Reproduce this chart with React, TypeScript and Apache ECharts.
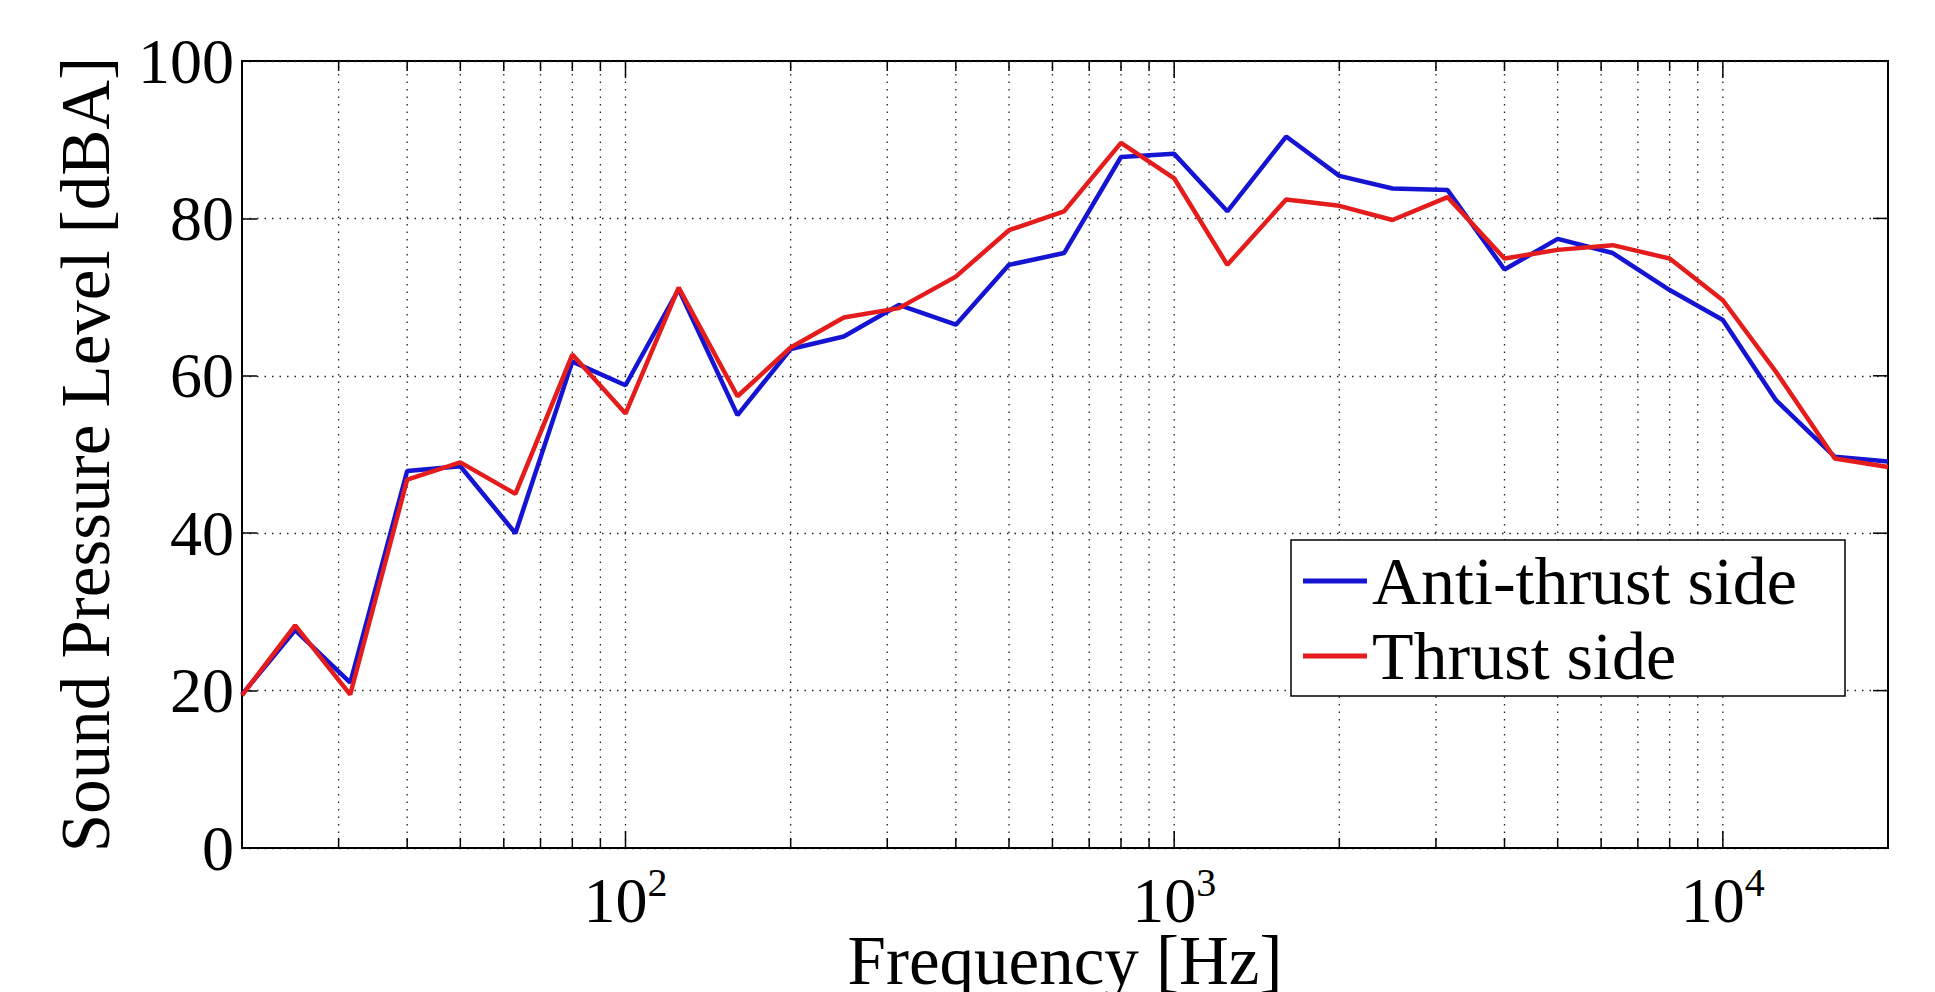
import React, { useEffect, useRef } from "react";
import * as echarts from "echarts";

const FONT = "Liberation Serif, DejaVu Serif, serif";

const freqs = [20, 25, 31.5, 40, 50, 63, 80, 100, 125, 160, 200, 250, 315, 400, 500, 630, 800, 1000, 1250, 1600, 2000, 2500, 3150, 4000, 5000, 6300, 8000, 10000, 12500, 16000, 20000];
const antiThrust = [19.5, 27.7, 21.0, 47.9, 48.5, 40.0, 61.8, 58.8, 71.0, 55.0, 63.4, 65.0, 69.0, 66.5, 74.1, 75.6, 87.8, 88.2, 80.9, 90.4, 85.4, 83.8, 83.6, 73.5, 77.4, 75.6, 70.9, 67.1, 56.9, 49.7, 49.1];
const thrust = [19.4, 28.3, 19.5, 46.8, 49.0, 45.0, 62.7, 55.2, 71.2, 57.4, 63.6, 67.4, 68.6, 72.6, 78.5, 80.9, 89.6, 85.1, 74.1, 82.4, 81.6, 79.8, 82.7, 74.9, 76.0, 76.6, 74.9, 69.6, 60.5, 49.5, 48.4];

const seriesNames = ["Anti-thrust side", "Thrust side"];
const seriesColors = ["#1414d2", "#e41c1c"];
const xMin = 20;
const xMax = 20000;
const yMin = 0;
const yMax = 100;
const yStep = 20;
const xMajorTicks = [100, 1000, 10000];
const xMinorTicks = [30, 40, 50, 60, 70, 80, 90, 200, 300, 400, 500, 600, 700, 800, 900, 2000, 3000, 4000, 5000, 6000, 7000, 8000, 9000];
const yInnerTicks = [20, 40, 60, 80];

export default function App() {
  const ref = useRef<HTMLDivElement>(null);
  useEffect(() => {
    if (!ref.current) return;
    const chart = echarts.init(ref.current, null, { renderer: "svg" });
    const xTickData = [
      ...xMinorTicks.map((f) => [f, yMin, 0]),
      ...xMajorTicks.map((f) => [f, yMin, 1]),
    ];
    const option: any = {
      animation: false,
      backgroundColor: "#ffffff",
      textStyle: { fontFamily: FONT },
      grid: {
        left: 242,
        top: 61,
        width: 1646,
        height: 787,
        containLabel: false,
        outerBoundsMode: "none",
        show: true,
        borderColor: "#000",
        borderWidth: 2,
        backgroundColor: "transparent",
      },
      xAxis: {
        type: "log",
        logBase: 10,
        min: xMin,
        max: xMax,
        name: "Frequency [Hz]",
        nameLocation: "middle",
        nameGap: 84,
        nameMoveOverlap: false,
        nameTextStyle: { fontFamily: FONT, fontSize: 69, color: "#000", lineHeight: 58 },
        axisLine: { show: true, lineStyle: { color: "#000", width: 2 } },
        axisTick: { show: false },
        splitLine: { show: false },
        minorTick: { show: false },
        axisLabel: {
          margin: 14,
          formatter: (v: number) => {
            const l = Math.log10(v);
            if (Math.abs(l - Math.round(l)) > 1e-6) return "";
            return "{b|10}{s|" + Math.round(l) + "}";
          },
          rich: {
            b: { fontFamily: FONT, fontSize: 64, color: "#000", lineHeight: 70, verticalAlign: "bottom" },
            s: { fontFamily: FONT, fontSize: 40, color: "#000", lineHeight: 70, verticalAlign: "top" },
          },
        },
      },
      yAxis: {
        type: "value",
        min: yMin,
        max: yMax,
        interval: yStep,
        name: "Sound Pressure Level [dBA]",
        nameLocation: "middle",
        nameGap: 122,
        nameMoveOverlap: false,
        nameTextStyle: { fontFamily: FONT, fontSize: 69, color: "#000" },
        axisLine: { show: true, lineStyle: { color: "#000", width: 2 } },
        axisTick: { show: true, inside: true, length: 15, lineStyle: { color: "#000", width: 1.5 } },
        axisLabel: { margin: 8, fontFamily: FONT, fontSize: 64, color: "#000" },
        splitLine: { show: true, lineStyle: { color: "#222", width: 1.3, type: [1.5, 6] } },
      },
      legend: {
        orient: "vertical",
        left: 1303,
        top: 547,
        padding: 0,
        itemWidth: 64,
        itemHeight: 5,
        itemGap: 7,
        itemTextGap: 5,
        z: 6,
        data: seriesNames.map((n) => ({ name: n, icon: "rect" })),
        textStyle: { fontFamily: FONT, fontSize: 68, color: "#000", lineHeight: 66 },
      },
      graphic: [
        {
          type: "rect",
          z: 3,
          shape: { x: 1291, y: 540, width: 554, height: 156 },
          style: { fill: "#fff", stroke: "#000", lineWidth: 1.5 },
        },
      ],
      series: [
        {
          type: "custom",
          name: "xgrid",
          silent: true,
          z: 1,
          encode: { x: 0, y: 1 },
          data: xTickData,
          renderItem: (params: any, api: any) => {
            const f = api.value(0);
            const major = api.value(2) === 1;
            const b = api.coord([f, yMin]);
            const t = api.coord([f, yMax]);
            const len = major ? 17 : 10;
            return {
              type: "group",
              children: [
                { type: "line", shape: { x1: b[0], y1: b[1], x2: t[0], y2: t[1] }, style: { stroke: "#222", lineWidth: 1.3, lineDash: [1.5, 6] } },
                { type: "line", shape: { x1: b[0], y1: b[1], x2: b[0], y2: b[1] - len }, style: { stroke: "#000", lineWidth: 1.5 } },
                { type: "line", shape: { x1: t[0], y1: t[1], x2: t[0], y2: t[1] + len }, style: { stroke: "#000", lineWidth: 1.5 } },
              ],
            };
          },
        },
        {
          type: "custom",
          name: "yticks",
          silent: true,
          z: 1,
          encode: { x: 0, y: 1 },
          data: yInnerTicks.map((v) => [xMax, v]),
          renderItem: (params: any, api: any) => {
            const p = api.coord([xMax, api.value(1)]);
            return { type: "line", shape: { x1: p[0], y1: p[1], x2: p[0] - 15, y2: p[1] }, style: { stroke: "#000", lineWidth: 1.5 } };
          },
        },
        {
          type: "line",
          name: seriesNames[0],
          data: freqs.map((f, i) => [f, antiThrust[i]]),
          symbol: "none",
          z: 2,
          lineStyle: { color: seriesColors[0], width: 4.5 },
          itemStyle: { color: seriesColors[0] },
        },
        {
          type: "line",
          name: seriesNames[1],
          data: freqs.map((f, i) => [f, thrust[i]]),
          symbol: "none",
          z: 2,
          lineStyle: { color: seriesColors[1], width: 4.5 },
          itemStyle: { color: seriesColors[1] },
        },
      ],
    };
    chart.setOption(option);
    return () => chart.dispose();
  }, []);
  return <div ref={ref} style={{ position: "absolute", left: 0, top: 0, width: 1935, height: 992 }} />;
}
